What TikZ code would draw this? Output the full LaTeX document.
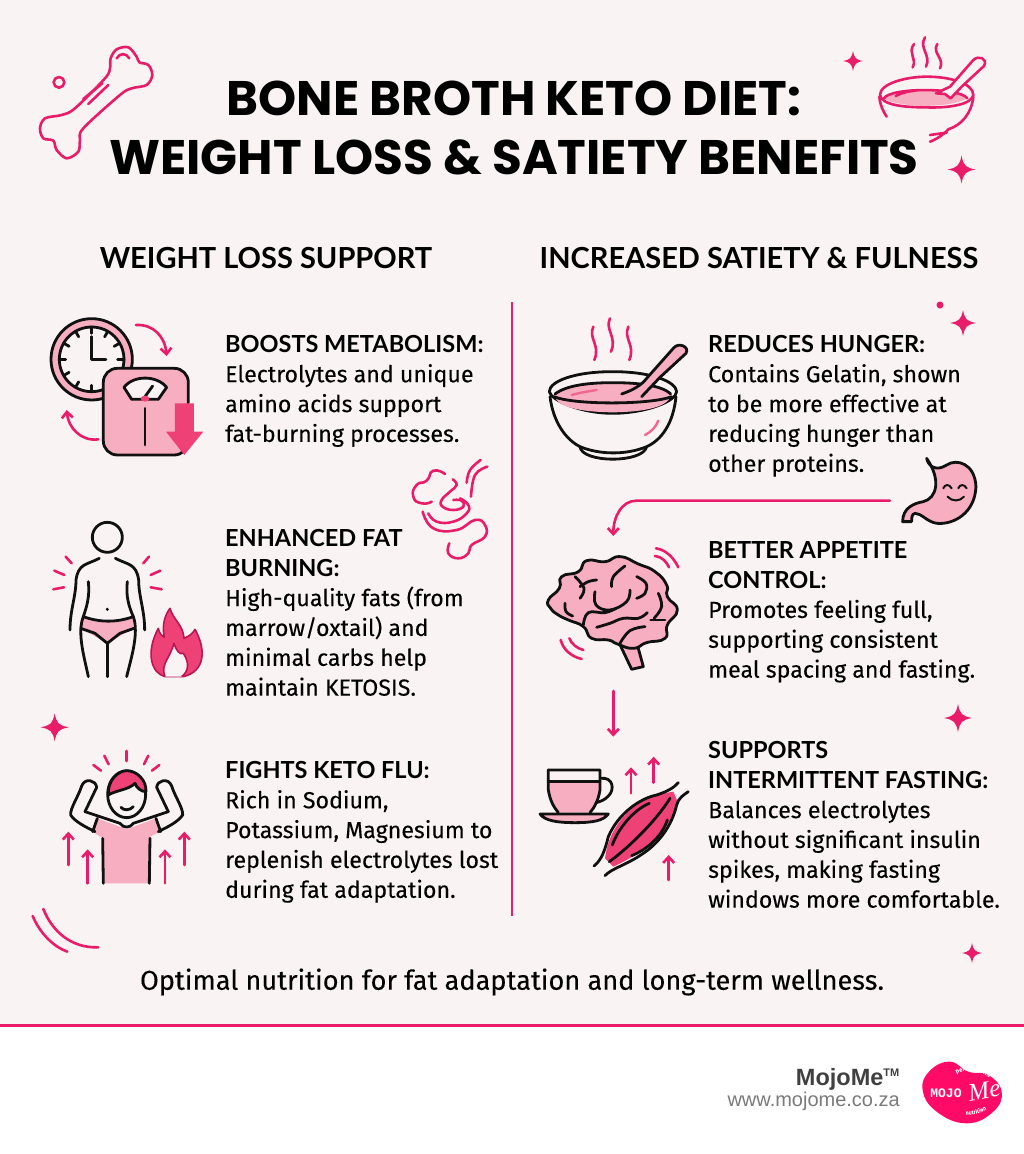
\documentclass[tikz,border=0pt]{standalone}
\usepackage{fontspec}
\usetikzlibrary{arrows.meta,decorations.text}
\setmainfont[FakeBold=0.12]{Fira Sans}
\newfontfamily\headfont{Lato}
\newfontfamily\titlefont{Poppins}
\newfontfamily\brandfont{Liberation Sans}
\newfontfamily\logofont{Liberation Mono}
\newfontfamily\logoscript{Liberation Serif}
\newcommand{\headtext}[1]{{\headfont\bfseries\fontsize{23.5}{29.85}\selectfont #1}}
\definecolor{paper}{HTML}{F9F3F4}
\definecolor{hotpink}{HTML}{E81C68}
\definecolor{softpink}{HTML}{F6AEC0}
\definecolor{deeppink}{HTML}{EE4176}
\definecolor{logopink}{HTML}{FF0A66}
\definecolor{ink}{HTML}{111111}
\tikzset{
  zoomed/.style 2 args={shift={(#1,#2)},x=0.3333pt,y=-0.3333pt},
  inkline/.style={draw=ink,line width=2.8pt,line cap=round,line join=round},
  pinkline/.style={draw=hotpink,line width=2.6pt,line cap=round,line join=round},
  title/.style={font=\titlefont\bfseries\fontsize{48.5}{58.5}\selectfont,align=center,inner sep=0pt,text=black},
  colhead/.style={font=\headfont\bfseries\fontsize{29}{30}\selectfont,inner sep=0pt,text=black},
  block/.style={font=\fontsize{23.2}{29.85}\selectfont,align=left,anchor=north west,inner sep=0pt,text=black},
}
\newcommand{\sparkle}[3]{\fill[hotpink,shift={(#1,#2)},scale=#3] (0,-1) .. controls (.14,-.28) and (.28,-.14) .. (1,0) .. controls (.28,.14) and (.14,.28) .. (0,1) .. controls (-.14,.28) and (-.28,.14) .. (-1,0) .. controls (-.28,-.14) and (-.14,-.28) .. (0,-1) -- cycle;}
\begin{document}
\begin{tikzpicture}[x=1pt,y=-1pt,>={Straight Barb[length=6pt,width=11pt]}]
\useasboundingbox (0,0) rectangle (1024,1154);
\fill[white] (0,0) rectangle (1024,1154);
\fill[paper] (0,0) rectangle (1024,1025);
\fill[hotpink] (0,1024) rectangle (1024,1027);

% title and column heads
\node[title] (maintitle) at (514,128) {BONE BROTH KETO DIET:\\WEIGHT LOSS \& SATIETY BENEFITS};
\node[colhead] (lefthead) at (266,258) {WEIGHT LOSS SUPPORT};
\node[colhead] (righthead) at (759,258) {INCREASED SATIETY \& FULNESS};
\coordinate (divtop) at (512,302);
\coordinate (divbottom) at (512,916);
\draw[hotpink,line width=2.5pt] (divtop) -- (divbottom);

% left text
\node[block] (boost) at (225,335) {\headtext{BOOSTS METABOLISM:}\\Electrolytes and unique\\amino acids support\\fat-burning processes.};
\node[block] (burn) at (225,529) {\headtext{ENHANCED FAT}\\\headtext{BURNING:}\\High-quality fats (from\\marrow/oxtail) and\\minimal carbs help\\maintain KETOSIS.};
\node[block] (flu) at (225,761) {\headtext{FIGHTS KETO FLU:}\\Rich in Sodium,\\Potassium, Magnesium to\\replenish electrolytes lost\\during fat adaptation.};

% right text
\node[block] (hunger) at (708,335) {\headtext{REDUCES HUNGER:}\\Contains Gelatin, shown\\to be more effective at\\reducing hunger than\\other proteins.};
\node[block] (appetite) at (708,541) {\headtext{BETTER APPETITE}\\\headtext{CONTROL:}\\Promotes feeling full,\\supporting consistent\\meal spacing and fasting.};
\node[block] (fasting) at (708,741) {\headtext{SUPPORTS}\\\headtext{INTERMITTENT FASTING:}\\Balances electrolytes\\without significant insulin\\spikes, making fasting\\windows more comfortable.};

\node[font=\fontsize{27.2}{30}\selectfont,inner sep=0pt] (tagline) at (512,982) {Optimal nutrition for fat adaptation and long-term wellness.};

% footer
\node[font=\brandfont\bfseries\fontsize{23.5}{26}\selectfont,text=black!75,anchor=east,inner sep=0pt] (brand) at (900,1079) {MojoMe\textsuperscript{\fontsize{11}{11}\selectfont TM}};
\node[font=\brandfont\fontsize{20}{24}\selectfont,text=black!52,anchor=east,inner sep=0pt] (site) at (900,1101) {www.mojome.co.za};

% sparkles
\sparkle{853}{61}{10}
\sparkle{961.5}{169.5}{14}
\sparkle{963}{323}{13}
\fill[hotpink] (940,305) circle (3.5);
\sparkle{958}{718}{14}
\sparkle{972}{953}{10}
\sparkle{54.7}{727.3}{14}

% bone
\begin{scope}[zoomed={20}{30}]
\draw[pinkline] plot[smooth cycle,tension=.55] coordinates {(270,115) (272,85) (290,58) (325,52) (350,80) (358,97) (385,105) (397,135) (380,165) (335,175) (300,195) (190,295) (180,330) (175,365) (140,385) (110,360) (100,332) (70,325) (60,295) (75,265) (125,255) (165,235) (255,145)};
\draw[pinkline] (290,85) .. controls (300,68) and (318,68) .. (328,85);
\draw[pinkline] (190,207) -- (247,160);
\draw[pinkline] (205,222) -- (265,165);
\draw[pinkline] (117,157) circle (16);
\end{scope}

% small bowl
\begin{scope}[zoomed={830}{30}]
\fill[softpink] (160,205) .. controls (180,172) and (390,172) .. (412,205) .. controls (360,235) and (210,235) .. (160,205) -- cycle;
\draw[pinkline] (150,195) .. controls (150,160) and (230,140) .. (290,140) .. controls (360,140) and (430,160) .. (430,195) .. controls (425,225) and (350,235) .. (285,232) .. controls (220,232) and (155,225) .. (150,195);
\draw[pinkline] (162,205) .. controls (180,172) and (390,172) .. (412,205);
\draw[pinkline] (148,200) .. controls (150,225) and (160,245) .. (170,260);
\draw[pinkline] (430,200) .. controls (425,250) and (395,285) .. (355,298) .. controls (340,315) and (315,330) .. (300,335);
\draw[pinkline] (300,315) -- (350,308);
\draw[pinkline] (197,198) .. controls (215,188) and (235,184) .. (255,182);
\draw[pinkline,fill=paper] (318,190) -- (360,170) -- (430,90) .. controls (445,75) and (475,85) .. (462,108) -- (395,170) -- (362,205) -- (345,192) -- cycle;
\draw[pinkline] (252,42) .. controls (232,70) and (262,85) .. (248,112);
\draw[pinkline] (285,22) .. controls (265,55) and (305,75) .. (288,110);
\draw[pinkline] (322,42) .. controls (305,70) and (345,85) .. (330,115);
\end{scope}

% clock and scale
\begin{scope}[zoomed={20}{300}]
\draw[inkline,fill=softpink] (215,178) circle (122);
\draw[inkline,fill=paper] (215,178) circle (97);
\foreach \a in {0,30,...,330}
  \draw[inkline] (215,178) ++(\a:78) -- ++(\a:19);
\draw[inkline] (215,110) -- (215,178) -- (258,178);
\draw[inkline,fill=softpink,rounded corners=14pt] (250,205) rectangle (505,465);
\draw[inkline,fill=paper] (312,262) .. controls (340,225) and (410,225) .. (440,262) -- (415,298) -- (335,298) -- cycle;
\draw[inkline] (375,290) -- (398,258);
\fill[deeppink] (375,296) ellipse (13 and 9);
\draw[inkline] (375,325) -- (375,435);
\fill[paper] (507,310) rectangle (525,395);
\fill[deeppink] (465,310) -- (522,310) -- (522,395) -- (550,395) -- (493,465) -- (438,395) -- (465,395) -- cycle;
\coordinate (scaletopa) at (348,75);
\coordinate (scaletopb) at (440,168);
\coordinate (scalelowa) at (235,418);
\coordinate (scalelowb) at (140,330);
\draw[pinkline,->] (scaletopa) .. controls (400,72) and (435,110) .. (scaletopb);
\draw[pinkline,->] (scalelowa) .. controls (185,425) and (145,385) .. (scalelowb);
\end{scope}

% body and flame
\begin{scope}[zoomed={20}{300}]
\draw[inkline] (262,712) circle (45);
\fill[softpink] (190,950) .. controls (240,968) and (290,968) .. (340,950) -- (340,985) -- (262,1030) -- (182,985) -- cycle;
\draw[inkline] (190,950) .. controls (240,968) and (290,968) .. (340,950);
\draw[inkline] (182,985) -- (225,1000) -- (262,1030) -- (300,1000) -- (342,985);
\draw[inkline] (238,775) .. controls (200,795) and (175,790) .. (168,840) .. controls (168,890) and (150,930) .. (150,990);
\draw[inkline] (286,775) .. controls (324,795) and (349,790) .. (356,840) .. controls (356,890) and (374,930) .. (374,990);
\draw[inkline] (205,845) .. controls (210,890) and (200,920) .. (190,950) .. controls (170,1000) and (195,1080) .. (205,1130);
\draw[inkline] (322,845) .. controls (317,890) and (327,920) .. (340,950) .. controls (358,1000) and (332,1080) .. (320,1130);
\draw[inkline] (262,1030) -- (262,1130);
\fill[ink] (262,928) circle (5);
\foreach \sx/\sy/\ex/\ey in {137/770/155/790,103/812/133/825,100/868/132/862,387/770/370/790,421/812/392/825,425/868/392/862}
  \draw[pinkline] (\sx,\sy) -- (\ex,\ey);
\draw[draw=hotpink!80!black,fill=deeppink,line width=1.6pt,line join=round] (435,1130) .. controls (395,1120) and (375,1060) .. (415,985) .. controls (418,1000) and (425,1008) .. (433,1012) .. controls (425,975) and (435,945) .. (450,925) .. controls (460,960) and (490,975) .. (492,1015) .. controls (505,1010) and (520,1000) .. (525,988) .. controls (560,1050) and (555,1115) .. (490,1130) -- cycle;
\draw[draw=hotpink!80!black,fill=paper,line width=1.6pt,line join=round] (435,1130) .. controls (420,1095) and (450,1075) .. (462,1030) .. controls (470,1055) and (480,1065) .. (490,1060) .. controls (510,1090) and (505,1115) .. (485,1130);
\end{scope}

% gas swirl
\begin{scope}[zoomed={400}{450}]
\draw[pinkline] plot[smooth,tension=1] coordinates {(135,72) (100,62) (80,92) (50,105) (40,140) (65,160) (95,155)};
\draw[pinkline] plot[smooth,tension=.8] coordinates {(158,88) (170,105) (150,125) (125,150) (128,170) (160,180) (190,170) (185,152) (160,150)};
\draw[pinkline] plot[smooth,tension=.8] coordinates {(85,190) (110,215) (160,215) (200,190) (205,165) (180,145)};
\draw[pinkline] plot[smooth,tension=.8] coordinates {(68,185) (100,235) (170,240) (225,210) (255,225) (255,260) (215,285) (205,310) (175,325) (145,310) (148,280)};
\draw[pinkline] plot[smooth,tension=.7] coordinates {(242,30) (210,60) (200,98)};
\draw[pinkline] plot[smooth,tension=.7] coordinates {(262,50) (225,75) (213,140)};
\end{scope}

% raised arms figure
\begin{scope}[zoomed={20}{700}]
\fill[softpink] (232,355) -- (320,388) -- (408,355) -- (420,395) -- (390,410) -- (388,550) -- (250,550) -- (248,415) -- (218,395) -- cycle;
\draw[inkline] (250,550) -- (248,415);
\draw[inkline] (388,550) -- (390,415);
\draw[inkline] (232,355) -- (218,395);
\draw[inkline] (408,355) -- (422,395);
\draw[inkline] (195,335) -- (300,370) .. controls (310,385) and (330,385) .. (340,370) -- (445,335);
\draw[inkline] (230,262) .. controls (228,240) and (195,232) .. (185,258) .. controls (175,290) and (150,325) .. (152,345) .. controls (165,365) and (195,380) .. (225,395);
\draw[inkline] (230,262) -- (195,335);
\draw[inkline] (410,262) .. controls (412,240) and (445,232) .. (455,258) .. controls (465,290) and (490,325) .. (488,345) .. controls (475,365) and (445,380) .. (415,395);
\draw[inkline] (410,262) -- (445,335);
\draw[inkline,fill=paper] (320,283) ellipse (57 and 70);
\draw[inkline,fill=deeppink] (265,285) .. controls (262,240) and (295,212) .. (320,212) .. controls (350,212) and (380,240) .. (378,275) .. controls (365,275) and (350,265) .. (345,250) .. controls (325,270) and (290,270) .. (265,285) -- cycle;
\draw[inkline] (303,322) .. controls (310,332) and (330,332) .. (340,320);
\foreach \sx/\sy/\ex/\ey in {320/153/320/183,253/167/266/193,220/195/243/212,385/167/372/193,418/195/396/212}
  \draw[pinkline] (\sx,\sy) -- (\ex,\ey);
\foreach \sx/\sy/\ey in {145/495/395,203/550/448,435/550/448,493/495/395}
  \draw[pinkline,->] (\sx,\sy) -- (\sx,\ey);
\draw[pinkline] (70,627) .. controls (95,690) and (150,745) .. (235,742);
\draw[pinkline] (38,648) .. controls (60,700) and (100,740) .. (142,755);
\end{scope}

% big bowl
\begin{scope}[zoomed={530}{290}]
\draw[inkline,fill=paper] (150,470) .. controls (155,520) and (340,520) .. (350,470);
\draw[inkline,fill=paper] (60,320) .. controls (70,400) and (110,450) .. (150,470) .. controls (210,495) and (290,495) .. (350,470) .. controls (395,450) and (430,400) .. (438,320);
\draw[inkline,fill=paper] (248,245) .. controls (130,245) and (58,275) .. (58,305) .. controls (62,330) and (150,370) .. (248,370) .. controls (345,370) and (438,335) .. (440,305) .. controls (438,275) and (365,245) .. (248,245);
\fill[softpink] (75,312) .. controls (110,285) and (180,278) .. (248,278) .. controls (320,278) and (395,285) .. (422,312) .. controls (422,350) and (345,366) .. (248,367) .. controls (150,366) and (70,350) .. (75,312) -- cycle;
\draw[inkline] (75,312) .. controls (110,285) and (180,278) .. (248,278) .. controls (320,278) and (395,285) .. (422,312);
\draw[inkline] (72,320) .. controls (130,345) and (360,345) .. (425,320);
\draw[draw=deeppink!80,line width=2.4pt,line cap=round] (125,315) .. controls (150,308) and (175,304) .. (200,300);
\draw[draw=deeppink!80,line width=2.4pt,line cap=round] (345,435) .. controls (365,425) and (378,410) .. (385,392);
\draw[inkline,fill=softpink] (275,312) .. controls (310,300) and (335,285) .. (350,265) -- (430,175) .. controls (445,155) and (480,170) .. (468,190) -- (390,262) -- (335,320);
\foreach \sx/\sy in {190/110,240/85,295/110}
  \draw[pinkline] (\sx,\sy) .. controls (\sx-16,\sy+35) and (\sx+22,\sy+55) .. (\sx+3,\sy+100);
\end{scope}

% stomach
\begin{scope}[zoomed={530}{290}]
\draw[inkline,fill=softpink] (1190,505) .. controls (1195,530) and (1220,545) .. (1250,525) .. controls (1280,505) and (1335,520) .. (1338,590) .. controls (1335,670) and (1270,705) .. (1220,700) .. controls (1190,695) and (1175,670) .. (1155,670) .. controls (1145,672) and (1145,685) .. (1145,695) -- (1118,695) .. controls (1118,655) and (1150,640) .. (1180,635) .. controls (1220,625) and (1235,570) .. (1190,505) -- cycle;
\draw[inkline,line width=2pt] (1240,595) .. controls (1245,582) and (1258,582) .. (1265,595);
\draw[inkline,line width=2pt] (1285,595) .. controls (1290,582) and (1303,582) .. (1310,595);
\draw[inkline,line width=2pt] (1253,620) .. controls (1265,635) and (1290,635) .. (1302,620);
\coordinate (stomachexit) at (1080,632);
\coordinate (bendstart) at (320,632);
\coordinate (braintop) at (250,738);
\draw[pinkline,->] (stomachexit) -- (bendstart) .. controls (275,632) and (250,680) .. (braintop);
\end{scope}

% brain
\begin{scope}[zoomed={530}{290}]
\draw[inkline,fill=softpink] (268,1060) -- (305,1138) -- (340,1130) -- (318,1050) -- cycle;
\draw[inkline,fill=softpink] plot[smooth cycle,tension=.9] coordinates {(55,930) (88,895) (95,860) (145,845) (170,812) (225,815) (270,800) (325,822) (375,845) (410,885) (412,920) (442,960) (412,1005) (405,1045) (350,1058) (310,1075) (262,1062) (235,1050) (185,1045) (160,1010) (115,990) (85,975) (62,955)};
\draw[inkline] plot[smooth,tension=.7] coordinates {(135,860) (162,895) (150,925)};
\draw[inkline] plot[smooth,tension=.7] coordinates {(105,940) (108,965) (128,978)};
\draw[inkline] plot[smooth,tension=.7] coordinates {(200,870) (175,875) (150,890)};
\draw[inkline] plot[smooth,tension=.7] coordinates {(285,828) (250,860) (245,890)};
\draw[inkline] plot[smooth,tension=.7] coordinates {(195,905) (198,945) (240,960) (290,935) (300,900)};
\draw[inkline] plot[smooth,tension=.7] coordinates {(160,1005) (175,968) (225,968) (258,955)};
\draw[inkline] plot[smooth,tension=.7] coordinates {(200,1012) (240,1000) (280,985) (325,985) (352,968)};
\draw[inkline] plot[smooth,tension=.7] coordinates {(320,860) (348,880) (345,910) (320,925)};
\draw[inkline] plot[smooth,tension=.7] coordinates {(385,910) (395,950) (372,985)};
\draw[inkline] plot[smooth,tension=.7] coordinates {(362,990) (405,990)};
\draw[inkline] plot[smooth,tension=.7] coordinates {(270,1060) (300,1022) (345,1010)};
\draw[pinkline] (378,775) .. controls (410,780) and (432,805) .. (445,832);
\draw[pinkline] (375,798) .. controls (395,800) and (410,815) .. (417,832);
\draw[pinkline] (92,1050) .. controls (100,1080) and (125,1100) .. (155,1107);
\draw[pinkline] (118,1045) .. controls (125,1062) and (140,1075) .. (160,1080);
\end{scope}

% cup, muscle and arrows
\begin{scope}[zoomed={530}{690}]
\coordinate (brainfoot) at (250,3);
\coordinate (cuptop) at (250,140);
\draw[pinkline,->] (brainfoot) -- (cuptop);
\fill[softpink] (57,275) -- (208,275) -- (208,300) .. controls (205,330) and (195,350) .. (180,368) -- (85,368) .. controls (70,350) and (60,330) .. (57,300) -- cycle;
\draw[inkline] (55,240) -- (210,240) -- (210,300) .. controls (205,330) and (195,350) .. (180,368);
\draw[inkline] (55,240) -- (55,300) .. controls (60,330) and (70,350) .. (85,368);
\draw[inkline] (55,275) -- (210,275);
\draw[inkline] (212,265) .. controls (250,260) and (255,300) .. (235,318) .. controls (225,330) and (210,335) .. (198,338);
\draw[inkline,fill=softpink] (30,372) -- (235,372) .. controls (220,392) and (190,398) .. (135,398) .. controls (80,398) and (45,392) .. (30,372) -- cycle;
\fill[deeppink] (225,505) .. controls (235,420) and (290,350) .. (370,315) -- (430,305) -- (445,340) .. controls (420,420) and (340,490) .. (250,530) -- cycle;
\draw[inkline] (192,528) .. controls (215,510) and (225,480) .. (235,440) .. controls (265,370) and (330,325) .. (380,315) .. controls (410,305) and (430,295) .. (445,278);
\draw[inkline] (225,557) .. controls (245,535) and (290,525) .. (340,490) .. controls (400,450) and (430,390) .. (440,345) .. controls (445,325) and (460,315) .. (475,305);
\draw[inkline] (247,465) .. controls (265,415) and (310,360) .. (358,340);
\draw[inkline] (238,515) .. controls (300,470) and (380,390) .. (420,325);
\draw[inkline] (305,497) .. controls (360,475) and (400,430) .. (412,390);
\foreach \sx/\sy/\ey in {303/310/232,371/278/200,416/570/495}
  \draw[pinkline,->] (\sx,\sy) -- (\sx,\ey);
\end{scope}

% logo
\begin{scope}[zoomed={700}{1040}]
\fill[logopink] plot[smooth cycle,tension=.75] coordinates {(668,150) (690,92) (750,65) (805,95) (865,105) (905,155) (880,215) (800,250) (710,215)};
\node[font=\logofont\bfseries\fontsize{13}{14}\selectfont,text=white,inner sep=0pt] (logomojo) at (738,161) {MOJO};
\node[font=\logoscript\itshape\fontsize{25}{25}\selectfont,text=white,inner sep=0pt,rotate=10] (logome) at (853,152) {Me};
\end{scope}
\path[decorate,decoration={text along path,text={|\fontsize{6}{6}\selectfont\color{white}|performance},text align=center}] (948,1079) .. controls (962,1066) and (982,1068) .. (997,1084);
\path[decorate,decoration={text along path,text={|\fontsize{5.5}{6}\selectfont\color{white}|nutrition},text align=center}] (956,1113) .. controls (970,1117) and (985,1113) .. (994,1103);
\end{tikzpicture}
\end{document}
